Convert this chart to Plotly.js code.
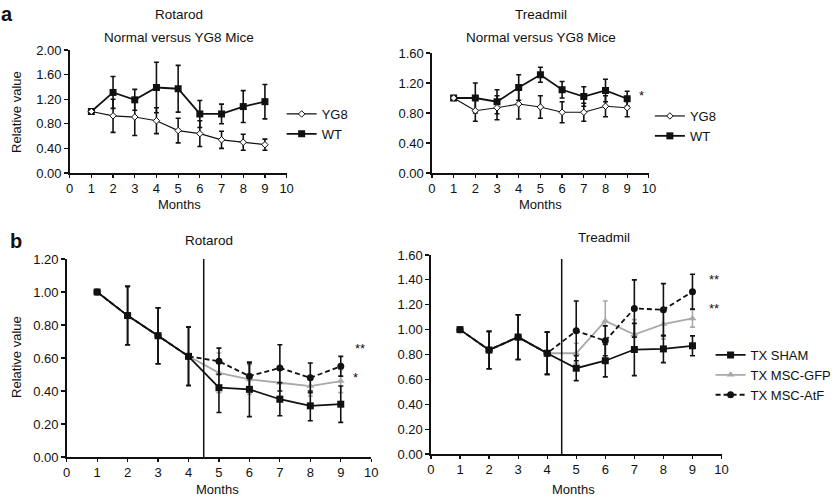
<!DOCTYPE html>
<html>
<head>
<meta charset="utf-8">
<script src="https://cdn.plot.ly/plotly-3.0.1.min.js"></script>
<style>html,body{margin:0;padding:0;background:#fff;}#chart{width:837px;height:497px;}</style>
</head>
<body>
<div id="chart"></div>
<script>
// ---------- data ----------
const months = [1, 2, 3, 4, 5, 6, 7, 8, 9];
const xTickVals = [0, 1, 2, 3, 4, 5, 6, 7, 8, 9, 10];
const treatmentMonth = 4.5;

// panel a – Rotarod
const rotA_YG8     = [1.00, 0.93, 0.91, 0.85, 0.69, 0.64, 0.54, 0.50, 0.46];
const rotA_YG8_err = [0.00, 0.27, 0.30, 0.21, 0.20, 0.21, 0.14, 0.13, 0.09];
const rotA_WT      = [1.00, 1.31, 1.19, 1.39, 1.37, 0.96, 0.96, 1.08, 1.16];
const rotA_WT_err  = [0.00, 0.26, 0.17, 0.41, 0.38, 0.22, 0.16, 0.26, 0.28];

// panel a – Treadmil
const trdA_YG8     = [1.00, 0.83, 0.87, 0.92, 0.88, 0.81, 0.81, 0.89, 0.87];
const trdA_YG8_err = [0.00, 0.14, 0.16, 0.20, 0.15, 0.14, 0.12, 0.14, 0.12];
const trdA_WT      = [1.00, 1.00, 0.95, 1.14, 1.31, 1.11, 1.02, 1.10, 0.99];
const trdA_WT_err  = [0.00, 0.20, 0.16, 0.17, 0.10, 0.11, 0.13, 0.15, 0.10];

// panel b – Rotarod
const rotB_SHAM     = [1.00, 0.857, 0.735, 0.61, 0.42, 0.41, 0.35, 0.31, 0.32];
const rotB_SHAM_err = [0.00, 0.177, 0.17, 0.177, 0.15, 0.165, 0.10, 0.09, 0.11];
const rotB_GFP      = [1.00, 0.857, 0.735, 0.61, 0.51, 0.47, 0.45, 0.43, 0.46];
const rotB_GFP_err  = [0.00, 0.177, 0.17, 0.177, 0.12, 0.09, 0.08, 0.06, 0.07];
const rotB_AtF      = [1.00, 0.857, 0.735, 0.61, 0.58, 0.49, 0.54, 0.48, 0.55];
const rotB_AtF_err  = [0.00, 0.177, 0.17, 0.177, 0.08, 0.08, 0.14, 0.09, 0.06];

// panel b – Treadmil
const trdB_SHAM     = [1.00, 0.836, 0.94, 0.81, 0.69, 0.75, 0.84, 0.845, 0.87];
const trdB_SHAM_err = [0.00, 0.15, 0.18, 0.17, 0.10, 0.13, 0.21, 0.11, 0.08];
const trdB_GFP      = [1.00, 0.836, 0.94, 0.81, 0.81, 1.07, 0.96, 1.045, 1.09];
const trdB_GFP_err  = [0.00, 0.15, 0.18, 0.17, 0.08, 0.16, 0.12, 0.12, 0.07];
const trdB_AtF      = [1.00, 0.836, 0.94, 0.81, 0.99, 0.91, 1.17, 1.16, 1.305];
const trdB_AtF_err  = [0.00, 0.15, 0.18, 0.17, 0.24, 0.12, 0.23, 0.21, 0.14];

// significance labels [text, x, y]
const sigRotA = ['***', 10.1, 1.30];
const sigTrdA = ['*', 9.68, 1.04];
const sigRotB = [['**', 9.64, 0.66], ['*', 9.48, 0.48]];
const sigTrdB = [['**', 9.73, 1.40], ['**', 9.73, 1.17]];

// ---------- styles ----------
const FONT = 'Liberation Sans, Arial, Helvetica, sans-serif';
const BLACK = '#111';
const GRAY = '#a9a9a9';
const DASH = '5px,3px';

function errBar(arr, color) {
  return {type: 'data', array: arr, visible: true, color: color, thickness: 1.6, width: 2.5};
}
function trace(y, err, opts) {
  return Object.assign({
    x: months, y: y, type: 'scatter', mode: 'lines+markers',
    error_y: errBar(err, opts.color), cliponaxis: false
  }, opts.base);
}

const data = [
  // a Rotarod
  Object.assign(trace(rotA_WT, rotA_WT_err, {color: BLACK}), {
    name: 'WT', xaxis: 'x', yaxis: 'y', legend: 'legend', legendrank: 2,
    line: {color: BLACK, width: 1.8}, marker: {symbol: 'square', size: 7, color: BLACK}
  }),
  Object.assign(trace(rotA_YG8, rotA_YG8_err, {color: BLACK}), {
    name: 'YG8', xaxis: 'x', yaxis: 'y', legend: 'legend', legendrank: 1,
    line: {color: BLACK, width: 1.2}, marker: {symbol: 'diamond', size: 5, color: '#fff', line: {color: BLACK, width: 1}}
  }),
  // a Treadmil
  Object.assign(trace(trdA_WT, trdA_WT_err, {color: BLACK}), {
    name: 'WT', xaxis: 'x2', yaxis: 'y2', legend: 'legend2', legendrank: 2,
    line: {color: BLACK, width: 1.8}, marker: {symbol: 'square', size: 7, color: BLACK}
  }),
  Object.assign(trace(trdA_YG8, trdA_YG8_err, {color: BLACK}), {
    name: 'YG8', xaxis: 'x2', yaxis: 'y2', legend: 'legend2', legendrank: 1,
    line: {color: BLACK, width: 1.2}, marker: {symbol: 'diamond', size: 5, color: '#fff', line: {color: BLACK, width: 1}}
  }),
  // b Rotarod
  Object.assign(trace(rotB_GFP, rotB_GFP_err, {color: GRAY}), {
    name: 'TX MSC-GFP', xaxis: 'x3', yaxis: 'y3', showlegend: false,
    line: {color: GRAY, width: 1.8}, marker: {symbol: 'triangle-up', size: 7, color: GRAY}
  }),
  Object.assign(trace(rotB_SHAM, rotB_SHAM_err, {color: BLACK}), {
    name: 'TX SHAM', xaxis: 'x3', yaxis: 'y3', showlegend: false,
    line: {color: BLACK, width: 1.8}, marker: {symbol: 'square', size: 7, color: BLACK}
  }),
  Object.assign(trace(rotB_AtF, rotB_AtF_err, {color: BLACK}), {
    name: 'TX MSC-AtF', xaxis: 'x3', yaxis: 'y3', showlegend: false,
    line: {color: BLACK, width: 1.8, dash: DASH}, marker: {symbol: 'circle', size: 7, color: BLACK}
  }),
  // b Treadmil
  Object.assign(trace(trdB_GFP, trdB_GFP_err, {color: GRAY}), {
    name: 'TX MSC-GFP', xaxis: 'x4', yaxis: 'y4', legend: 'legend3', legendrank: 2,
    line: {color: GRAY, width: 1.8}, marker: {symbol: 'triangle-up', size: 7, color: GRAY}
  }),
  Object.assign(trace(trdB_SHAM, trdB_SHAM_err, {color: BLACK}), {
    name: 'TX SHAM', xaxis: 'x4', yaxis: 'y4', legend: 'legend3', legendrank: 1,
    line: {color: BLACK, width: 1.8}, marker: {symbol: 'square', size: 7, color: BLACK}
  }),
  Object.assign(trace(trdB_AtF, trdB_AtF_err, {color: BLACK}), {
    name: 'TX MSC-AtF', xaxis: 'x4', yaxis: 'y4', legend: 'legend3', legendrank: 3,
    line: {color: BLACK, width: 1.8, dash: DASH}, marker: {symbol: 'circle', size: 7, color: BLACK}
  })
];

const W = 837, H = 497;
function px(x) { return x / W; }
function py(y) { return 1 - y / H; }

function xAxis(x0, x1, anchor) {
  return {
    domain: [px(x0), px(x1)], anchor: anchor, range: [0, 10],
    tickvals: xTickVals, ticks: 'outside', ticklen: 3, tickwidth: 1.2, tickcolor: BLACK,
    showline: true, linecolor: BLACK, linewidth: 1.5, showgrid: false, zeroline: false,
    tickfont: {family: FONT, size: 13, color: BLACK}, fixedrange: true
  };
}
function yAxis(yTop, yBot, max, dtick, anchor) {
  return {
    domain: [py(yBot), py(yTop)], anchor: anchor, range: [0, max], dtick: dtick, tick0: 0,
    tickformat: '.2f', ticks: 'outside', ticklen: 4, tickwidth: 1.2, tickcolor: BLACK,
    showline: true, linecolor: BLACK, linewidth: 1.5, showgrid: false, zeroline: false,
    tickfont: {family: FONT, size: 13, color: BLACK}, fixedrange: true
  };
}

function ann(text, x, y, opts) {
  return Object.assign({
    text: text, x: px(x), y: py(y), xref: 'paper', yref: 'paper',
    showarrow: false, xanchor: 'center', yanchor: 'middle',
    font: {family: FONT, size: 13.5, color: BLACK}
  }, opts || {});
}
function sig(s, xr, yr) {
  return {text: s[0], x: s[1], y: s[2], xref: xr, yref: yr, showarrow: false,
    xanchor: 'center', yanchor: 'middle', font: {family: FONT, size: 13, color: BLACK}};
}
const F13 = {font: {family: FONT, size: 13, color: BLACK}};

const annotations = [
  ann('<b>a</b>', 7, 14, {font: {family: FONT, size: 20, color: BLACK}}),
  ann('<b>b</b>', 16, 241, {font: {family: FONT, size: 20, color: BLACK}}),
  ann('Rotarod', 180, 15),
  ann('Normal versus YG8 Mice', 180, 37),
  ann('Treadmil', 544, 15),
  ann('Normal versus YG8 Mice', 544, 37),
  ann('Rotarod', 210, 241),
  ann('Treadmil', 607, 237),
  ann('Months', 180, 204, F13),
  ann('Months', 543, 204, F13),
  ann('Months', 219, 489, F13),
  ann('Months', 576, 489, F13),
  ann('Relative value', 16, 112, Object.assign({textangle: -90}, F13)),
  ann('Relative value', 16, 357, Object.assign({textangle: -90}, F13)),
  sig(sigRotA, 'x', 'y'),
  sig(sigTrdA, 'x2', 'y2'),
  sig(sigRotB[0], 'x3', 'y3'), sig(sigRotB[1], 'x3', 'y3'),
  sig(sigTrdB[0], 'x4', 'y4'), sig(sigTrdB[1], 'x4', 'y4')
];

const legendBase = {
  orientation: 'v', xanchor: 'left', yanchor: 'top', bgcolor: 'rgba(0,0,0,0)',
  font: {family: FONT, size: 13, color: BLACK}, tracegroupgap: 0, itemwidth: 30, traceorder: 'normal'
};

const layout = {
  width: W, height: H, margin: {l: 0, r: 0, t: 0, b: 0},
  paper_bgcolor: '#fff', plot_bgcolor: '#fff',
  font: {family: FONT, size: 13, color: BLACK},
  xaxis: xAxis(70, 288, 'y'),
  yaxis: yAxis(50, 173, 2.0, 0.4, 'x'),
  xaxis2: xAxis(434, 652, 'y2'),
  yaxis2: yAxis(53, 173, 1.6, 0.4, 'x2'),
  xaxis3: xAxis(67, 373, 'y3'),
  yaxis3: yAxis(259, 457, 1.2, 0.2, 'x3'),
  xaxis4: xAxis(433, 725, 'y4'),
  yaxis4: yAxis(255, 454, 1.6, 0.2, 'x4'),
  legend: Object.assign({}, legendBase, {x: px(283), y: py(99)}),
  legend2: Object.assign({}, legendBase, {x: px(653), y: py(101)}),
  legend3: Object.assign({}, legendBase, {x: px(714), y: py(340)}),
  showlegend: true,
  annotations: annotations,
  shapes: [
    {type: 'line', xref: 'x3', yref: 'y3 domain', x0: treatmentMonth, x1: treatmentMonth, y0: 0, y1: 1,
     line: {color: BLACK, width: 1.5}},
    {type: 'line', xref: 'x4', yref: 'y4 domain', x0: treatmentMonth, x1: treatmentMonth, y0: 0, y1: 0.98,
     line: {color: BLACK, width: 1.5}}
  ]
};

Plotly.newPlot('chart', data, layout, {displayModeBar: false, staticPlot: true});
</script>
</body>
</html>
